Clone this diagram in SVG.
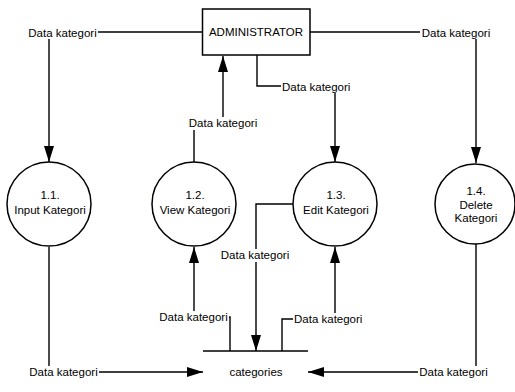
<svg xmlns="http://www.w3.org/2000/svg" width="515" height="392" viewBox="0 0 515 392">
<style>
text{font-family:"Liberation Sans",Arial,sans-serif;font-size:11.5px;fill:#000}
.c{text-anchor:middle}
.ln{fill:none;stroke:#000;stroke-width:1.4}
.arr{fill:none;stroke:#000;stroke-width:1.4;marker-end:url(#ah)}
.proc{fill:#fff;stroke:#000;stroke-width:1.5}
.bg{fill:#fff}
</style>
<defs>
<marker id="ah" markerUnits="userSpaceOnUse" markerWidth="16" markerHeight="10" refX="16" refY="5" orient="auto">
<path d="M0,0 L16,5 L0,10 z" fill="#000"/>
</marker>
</defs>
<rect width="515" height="392" fill="#fff"/>
<g id="connectors">
<path class="arr" d="M202,32 H49 V162"/>
<path class="arr" d="M194,162 V123 H223 V56"/>
<path class="arr" d="M257,55 V86 H335 V162"/>
<path class="arr" d="M310,32 H476 V163"/>
<path class="arr" d="M293,204 H256 V351"/>
<path class="arr" d="M230,351 V317 H194 V247"/>
<path class="arr" d="M282,351 V319 H335 V247"/>
<path class="arr" d="M49,247 V372 H203"/>
<path class="arr" d="M476,244 V372 H308"/>
<g id="labels">
<rect class="bg" x="27" y="26" width="71" height="13"/><text class="c" x="62.5" y="36.5">Data kategori</text>
<rect class="bg" x="420" y="26" width="71" height="13"/><text class="c" x="456" y="36.5">Data kategori</text>
<rect class="bg" x="187" y="117" width="72" height="13"/><text class="c" x="223" y="127">Data kategori</text>
<rect class="bg" x="281" y="80" width="72" height="13"/><text x="282" y="90.5">Data kategori</text>
<rect class="bg" x="219" y="249" width="72" height="13"/><text class="c" x="255" y="259">Data kategori</text>
<rect class="bg" x="158" y="311" width="71" height="13"/><text class="c" x="193.5" y="321">Data kategori</text>
<rect class="bg" x="293" y="313" width="72" height="13"/><text x="294" y="323">Data kategori</text>
<rect class="bg" x="27" y="366" width="72" height="13"/><text class="c" x="63.5" y="376">Data kategori</text>
<rect class="bg" x="418" y="366" width="72" height="13"/><text class="c" x="453.5" y="376">Data kategori</text>
</g>
</g>
<g id="admin">
<rect x="202.5" y="9" width="107.5" height="46" fill="#fff" stroke="#000" stroke-width="1.5"/>
<text class="c" x="256" y="36">ADMINISTRATOR</text>
</g>
<g id="p1_1">
<circle class="proc" cx="49" cy="204" r="42"/>
<text class="c" x="50" y="199">1.1.</text>
<text class="c" x="50" y="214">Input Kategori</text>
</g>
<g id="p1_2">
<circle class="proc" cx="194" cy="204" r="42"/>
<text class="c" x="195" y="199">1.2.</text>
<text class="c" x="195" y="214">View Kategori</text>
</g>
<g id="p1_3">
<circle class="proc" cx="335" cy="204" r="42"/>
<text class="c" x="336" y="199">1.3.</text>
<text class="c" x="336" y="214">Edit Kategori</text>
</g>
<g id="p1_4">
<circle class="proc" cx="475" cy="204" r="40"/>
<text class="c" x="476" y="195">1.4.</text>
<text class="c" x="476" y="208.5">Delete</text>
<text class="c" x="476" y="222">Kategori</text>
</g>
<g id="store">
<line class="ln" x1="203" y1="351" x2="308" y2="351"/>
<text class="c" x="256" y="376">categories</text>
</g>
</svg>
